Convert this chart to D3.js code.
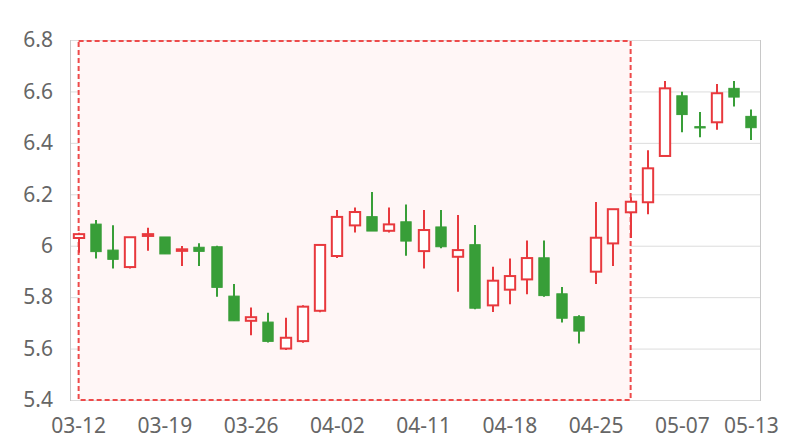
<!DOCTYPE html>
<html>
<head>
<meta charset="utf-8">
<script src="https://cdn.jsdelivr.net/npm/d3@7"></script>
<style>
  html, body { margin: 0; padding: 0; background: #fff; }
  svg { display: block; }
  text { font-family: "Noto Sans", "Open Sans", sans-serif; }
</style>
</head>
<body>
<svg id="chart" width="800" height="440"></svg>
<script>
const dates = ["03-12","03-13","03-14","03-15","03-18","03-19","03-20","03-21","03-22","03-25",
  "03-26","03-27","03-28","03-29","04-01","04-02","04-03","04-08","04-09","04-10",
  "04-11","04-12","04-15","04-16","04-17","04-18","04-19","04-22","04-23","04-24",
  "04-25","04-26","04-29","04-30","05-06","05-07","05-08","05-09","05-10","05-13"];
const openVals  = [6.03,6.084,5.983,5.917,6.038,6.034,5.98,5.994,5.996,5.804,
  5.708,5.703,5.600,5.629,5.747,5.96,6.079,6.113,6.058,6.093,
  5.979,6.073,5.957,6.004,5.768,5.829,5.869,5.953,5.813,5.724,
  5.899,6.009,6.13,6.169,6.349,6.583,6.463,6.48,6.612,6.503];
const closeVals = [6.045,5.977,5.947,6.033,6.045,5.968,5.986,5.978,5.838,5.708,
  5.722,5.628,5.642,5.763,6.003,6.112,6.131,6.057,6.083,6.018,
  6.061,5.996,5.983,5.757,5.864,5.882,5.952,5.806,5.718,5.668,
  6.031,6.142,6.171,6.301,6.612,6.51,6.458,6.593,6.578,6.459];
const highVals  = [6.05,6.10,6.08,6.033,6.07,6.034,5.999,6.01,6.0,5.851,
  5.76,5.739,5.72,5.768,6.003,6.139,6.149,6.209,6.149,6.16,
  6.139,6.139,6.119,6.081,5.918,5.95,6.02,6.02,5.839,5.73,
  6.17,6.142,6.188,6.371,6.641,6.599,6.52,6.629,6.641,6.53];
const lowVals   = [5.973,5.95,5.911,5.911,5.98,5.968,5.921,5.921,5.802,5.708,
  5.652,5.624,5.594,5.623,5.741,5.952,6.051,6.057,6.051,5.961,
  5.911,5.99,5.821,5.753,5.742,5.772,5.811,5.802,5.701,5.62,
  5.851,5.921,6.03,6.122,6.349,6.441,6.422,6.451,6.541,6.411];
const xTickLabels = ["03-12","03-19","03-26","04-02","04-11","04-18","04-25","05-07","05-13"];
const yTicks = [5.4,5.6,5.8,6.0,6.2,6.4,6.6,6.8];
const markAreaRange = ["03-12","04-29"];

const data = dates.map((d,i)=>({date:d, open:openVals[i], close:closeVals[i], high:highVals[i], low:lowVals[i]}));

const W = 800, H = 440;
const margin = {left:70, right:40, top:40, bottom:40};
const svg = d3.select("#chart");

const x = d3.scaleBand().domain(dates).range([margin.left, W - margin.right]).padding(0);
const y = d3.scaleLinear().domain([5.4, 6.8]).range([H - margin.bottom, margin.top]);
const cx = d => x(d) + x.bandwidth()/2;

const RED = "#e8393e", GREEN = "#389e38", TEXT = "#666";

// grid
svg.append("g").selectAll("line").data(yTicks).join("line")
  .attr("x1", margin.left).attr("x2", W - margin.right)
  .attr("y1", d=>y(d)+0.5).attr("y2", d=>y(d)+0.5)
  .attr("stroke", "#dcdcdc").attr("stroke-width", 1);

// frame sides
svg.append("line").attr("x1", margin.left+0.5).attr("x2", margin.left+0.5)
  .attr("y1", y(6.8)).attr("y2", y(5.4)+1).attr("stroke", "#c8c8c8");
svg.append("line").attr("x1", W - margin.right+0.5).attr("x2", W - margin.right+0.5)
  .attr("y1", y(6.8)).attr("y2", y(5.4)+1).attr("stroke", "#c8c8c8");

// mark area
svg.append("rect")
  .attr("x", cx(markAreaRange[0])).attr("y", y(6.8)+1)
  .attr("width", cx(markAreaRange[1]) - cx(markAreaRange[0]))
  .attr("height", y(5.4) - y(6.8) - 1)
  .attr("fill", "#fff6f6")
  .attr("stroke", "#ee4a4a").attr("stroke-width", 2)
  .attr("stroke-dasharray", "5,3");

// y axis labels
svg.append("g").selectAll("text").data(yTicks).join("text")
  .attr("x", 53).attr("y", d=>y(d)).attr("dy", "0.35em")
  .attr("text-anchor", "end").attr("fill", TEXT).attr("font-size", 21)
  .text(d => d3.format("~g")(d));

// x axis labels
svg.append("g").selectAll("text").data(xTickLabels).join("text")
  .attr("x", d=>cx(d)).attr("y", 433)
  .attr("text-anchor", "middle").attr("fill", TEXT).attr("font-size", 21)
  .text(d=>d);

// candles
const bw = x.bandwidth()*0.6;
const g = svg.append("g");
data.forEach(d => {
  const up = d.close >= d.open;
  const col = up ? RED : GREEN;
  const c = Math.round(cx(d.date));
  g.append("line").attr("x1", c).attr("x2", c)
    .attr("y1", y(d.high)).attr("y2", y(d.low))
    .attr("stroke", col).attr("stroke-width", 2);
  const top = y(Math.max(d.open, d.close));
  const bot = y(Math.min(d.open, d.close));
  g.append("rect")
    .attr("x", c - bw/2).attr("y", top)
    .attr("width", bw).attr("height", Math.max(1, bot - top))
    .attr("fill", up ? "#fff" : GREEN)
    .attr("stroke", col).attr("stroke-width", up ? 2 : 1);
});
</script>
</body>
</html>
